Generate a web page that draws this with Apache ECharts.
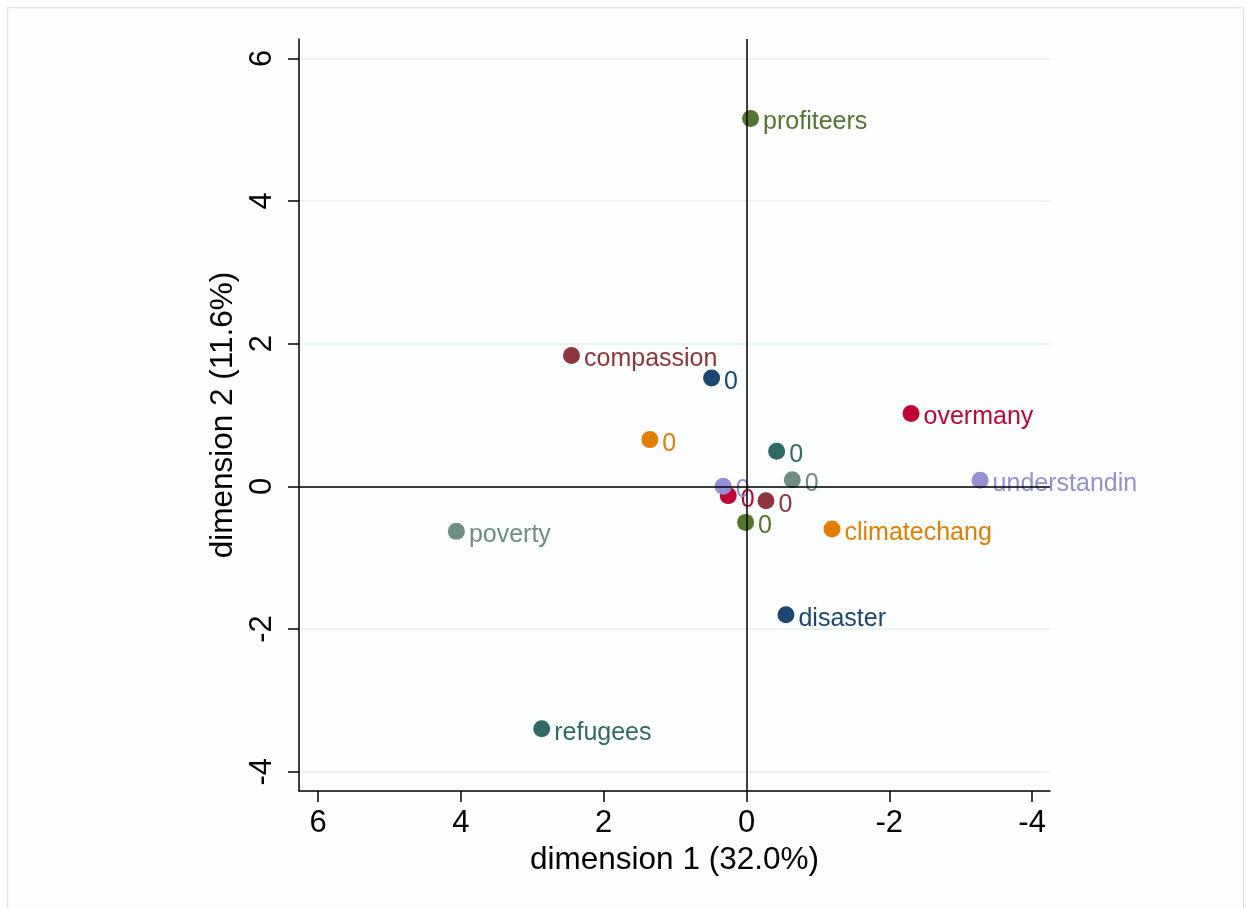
<!DOCTYPE html>
<html>
<head>
<meta charset="utf-8">
<title>MCA coordinate plot</title>
<script src="https://cdn.jsdelivr.net/npm/echarts@6/dist/echarts.min.js"></script>
<style>
  html, body { margin: 0; padding: 0; background: #ffffff; }
  #chart { width: 1251px; height: 908px; }
</style>
</head>
<body>
<div id="chart"></div>
<script>
// Category points of the multiple correspondence analysis
const pointLabels = ['profiteers', 'compassion', 'overmany', 'understandin', 'climatechang',
  'poverty', 'disaster', 'refugees',
  '0', '0', '0', '0', '0', '0', '0', '0'];
const dim1 = [-0.057, 2.451, -2.304, -3.271, -1.197, 4.063, -0.552, 2.868,
  0.489, 1.354, -0.422, -0.641, 0.256, 0.327, -0.272, 0.013];
const dim2 = [5.157, 1.833, 1.020, 0.084, -0.597, -0.631, -1.799, -3.398,
  1.520, 0.655, 0.491, 0.094, -0.130, 0.000, -0.201, -0.505];
// variable each point belongs to (index into the palette)
const pointGroup = [2, 1, 5, 6, 3, 4, 0, 7,
  0, 3, 7, 4, 5, 6, 1, 2];
const tickValues = [-4, -2, 0, 2, 4, 6];
const xTitle = 'dimension 1 (32.0%)';
const yTitle = 'dimension 2 (11.6%)';

const palette = ['#1a476f', '#90353b', '#55752f', '#e37e00', '#6e8e84', '#c10534', '#958fd4', '#2d6b64'];
const FONT = '"Liberation Sans", Arial, Helvetica, sans-serif';

const points = pointLabels.map((name, i) => ({
  name: name,
  value: [dim1[i], dim2[i]],
  itemStyle: { color: palette[pointGroup[i]], opacity: 1 },
  label: { color: palette[pointGroup[i]] }
}));

const chart = echarts.init(document.getElementById('chart'), null, { renderer: 'canvas' });

chart.setOption({
  animation: false,
  backgroundColor: '#ffffff',
  textStyle: { fontFamily: FONT },
  graphic: [{
    type: 'rect',
    z: -10,
    shape: { x: 7.5, y: 7.5, width: 1236, height: 920 },
    style: { fill: '#fdfefe', stroke: '#e2e8e8', lineWidth: 1.5 }
  }],
  grid: { left: 299, right: 201, top: 39, bottom: 117, containLabel: false },
  xAxis: {
    type: 'value',
    inverse: true,
    min: -4.25,
    max: 6.267,
    name: xTitle,
    nameLocation: 'middle',
    nameGap: 53,
    nameTextStyle: { fontSize: 31.5, color: '#000', fontFamily: FONT },
    axisLine: { onZero: false, lineStyle: { color: '#000', width: 1.5 } },
    axisTick: { show: true, length: 11, customValues: tickValues, lineStyle: { color: '#000', width: 1.5 } },
    axisLabel: { customValues: tickValues, fontSize: 31, color: '#000', margin: 17, fontFamily: FONT },
    splitLine: { show: false }
  },
  yAxis: {
    type: 'value',
    min: -4.27,
    max: 6.27,
    name: yTitle,
    nameLocation: 'middle',
    nameGap: 54,
    nameRotate: 90,
    nameTextStyle: { fontSize: 31.5, color: '#000', fontFamily: FONT },
    axisLine: { onZero: false, lineStyle: { color: '#000', width: 1.5 } },
    axisTick: { show: true, length: 11, customValues: tickValues, lineStyle: { color: '#000', width: 1.5 } },
    axisLabel: { customValues: tickValues, rotate: 90, fontSize: 31, color: '#000', margin: 21, fontFamily: FONT },
    splitLine: { show: true, lineStyle: { color: '#e6eff1', width: 1.5 } }
  },
  series: [{
    type: 'scatter',
    symbol: 'circle',
    symbolSize: 17,
    data: points,
    itemStyle: { opacity: 1 },
    label: {
      show: true,
      position: 'right',
      distance: 4,
      offset: [0, 4],
      formatter: '{b}',
      fontSize: 25,
      fontFamily: FONT
    },
    emphasis: { disabled: true },
    markLine: {
      silent: true,
      symbol: 'none',
      label: { show: false },
      lineStyle: { color: '#000', width: 1.5, type: 'solid', opacity: 1 },
      data: [{ xAxis: 0 }, { yAxis: 0 }]
    }
  }]
});
</script>
</body>
</html>
